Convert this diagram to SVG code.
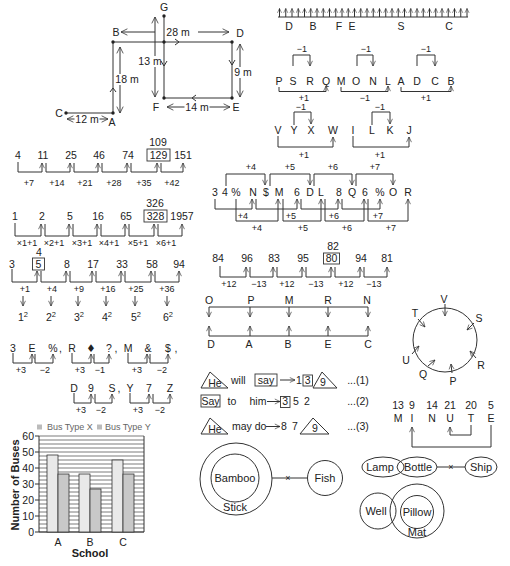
<svg xmlns="http://www.w3.org/2000/svg" width="510" height="566" viewBox="0 0 510 566">
<defs>
<marker id="a" viewBox="0 0 10 10" refX="9" refY="5" markerWidth="6.5" markerHeight="6.5" orient="auto" markerUnits="userSpaceOnUse"><path d="M1,1.2L9,5L1,8.8" fill="none" stroke="#2e2e2e" stroke-width="1.5"/></marker>
<marker id="s" viewBox="0 0 10 10" refX="9" refY="5" markerWidth="5.5" markerHeight="5.5" orient="auto" markerUnits="userSpaceOnUse"><path d="M1,1.2L9,5L1,8.8" fill="none" stroke="#2e2e2e" stroke-width="1.7"/></marker>
<marker id="b" viewBox="0 0 10 10" refX="9" refY="5" markerWidth="8" markerHeight="8" orient="auto-start-reverse" markerUnits="userSpaceOnUse"><path d="M1,1L9,5L1,9" fill="none" stroke="#2e2e2e" stroke-width="1.3"/></marker>
</defs>
<style>
text{font-family:"Liberation Sans",Arial,Helvetica,sans-serif;font-size:10.5px;fill:#222}
.c{text-anchor:middle}
.e{text-anchor:end}
.s{font-size:9px}
.m{font-size:11px}
line,path,polyline,polygon,.o{stroke:#333;stroke-width:1;fill:none}
.ar{marker-end:url(#a)}
.sa{marker-end:url(#s)}
.dd{marker-start:url(#b);marker-end:url(#b)}
.de{marker-end:url(#b)}
.dot{fill:#222}
.bx{fill:none;stroke:#333;stroke-width:.9}
.wb{fill:#fff}
.grid{stroke:#444;stroke-width:.7}
.bX{fill:#e9e9e9;stroke:#333;stroke-width:.8}
.bY{fill:#c8c8c8;stroke:#333;stroke-width:.8}
.b{font-weight:bold;font-size:11px}
.lg{font-size:9px;fill:#666}
</style>
<rect width="510" height="566" fill="#fff"/>

<g id="map">
<g id="map-connectors">
<line x1="164" y1="16" x2="164" y2="98"/>
<line class="de" x1="155" y1="32" x2="121" y2="32"/>
<line class="de" x1="198" y1="32" x2="229" y2="32"/>
<line x1="113" y1="42" x2="232" y2="42"/>
<polyline points="175,39 179,42 175,45"/>
<line class="dd" x1="155" y1="17" x2="155" y2="97"/>
<line x1="232" y1="42" x2="232" y2="98"/>
<polyline points="229,60 232,65 235,60"/>
<line class="dd" x1="240" y1="44" x2="240" y2="97"/>
<line x1="164" y1="98" x2="232" y2="98"/>
<polyline points="196,95 192,98 196,101"/>
<line class="dd" x1="167" y1="107" x2="230" y2="107"/>
<line x1="113" y1="42" x2="113" y2="113"/>
<polyline points="110,92 113,88 116,92"/>
<line class="dd" x1="120" y1="47" x2="120" y2="113"/>
<line x1="66" y1="113" x2="113" y2="113"/>
<line class="dd" x1="67" y1="119" x2="108" y2="119"/>
</g>
<rect class="wb" x="138.5" y="56" width="23" height="11"/>
<rect class="wb" x="115" y="74" width="24" height="11"/>
<rect class="wb" x="234.5" y="67" width="17" height="11"/>
<rect class="wb" x="184.5" y="102" width="25" height="11"/>
<rect class="wb" x="74.5" y="114" width="25" height="11"/>
<polyline points="161,61 164,66 167,61"/>
<circle class="dot" cx="164" cy="16" r="1.7"/>
<circle class="dot" cx="113" cy="42" r="1.7"/>
<circle class="dot" cx="164" cy="42" r="1.7"/>
<circle class="dot" cx="232" cy="42" r="1.7"/>
<circle class="dot" cx="164" cy="98" r="1.7"/>
<circle class="dot" cx="232" cy="98" r="1.7"/>
<circle class="dot" cx="113" cy="113" r="1.7"/>
<circle class="dot" cx="66" cy="113" r="1.7"/>
<g class="m">
<text x="164" y="11" class="c">G</text>
<text x="116" y="36" class="c">B</text>
<text x="178" y="36" class="c">28 m</text>
<text x="240" y="37" class="c">D</text>
<text x="150" y="65" class="c">13 m</text>
<text x="127" y="83" class="c">18 m</text>
<text x="243" y="76" class="c">9 m</text>
<text x="156" y="111" class="c">F</text>
<text x="236" y="111" class="c">E</text>
<text x="197" y="111" class="c">14 m</text>
<text x="59" y="117" class="c">C</text>
<text x="87" y="123" class="c">12 m</text>
<text x="112" y="126" class="c">A</text>
</g>
</g>

<g id="strip">
<line x1="278" y1="17" x2="468" y2="17"/>
<g class="sa">
<line x1="279.5" y1="17" x2="279.5" y2="8.5"/><line x1="285.75" y1="17" x2="285.75" y2="8.5"/><line x1="292" y1="17" x2="292" y2="8.5"/><line x1="298.25" y1="17" x2="298.25" y2="8.5"/><line x1="304.5" y1="17" x2="304.5" y2="8.5"/><line x1="310.75" y1="17" x2="310.75" y2="8.5"/><line x1="317" y1="17" x2="317" y2="8.5"/><line x1="323.25" y1="17" x2="323.25" y2="8.5"/><line x1="329.5" y1="17" x2="329.5" y2="8.5"/><line x1="335.75" y1="17" x2="335.75" y2="8.5"/><line x1="342" y1="17" x2="342" y2="8.5"/><line x1="348.25" y1="17" x2="348.25" y2="8.5"/><line x1="354.5" y1="17" x2="354.5" y2="8.5"/><line x1="360.75" y1="17" x2="360.75" y2="8.5"/><line x1="367" y1="17" x2="367" y2="8.5"/><line x1="373.25" y1="17" x2="373.25" y2="8.5"/><line x1="379.5" y1="17" x2="379.5" y2="8.5"/><line x1="385.75" y1="17" x2="385.75" y2="8.5"/><line x1="392" y1="17" x2="392" y2="8.5"/><line x1="398.25" y1="17" x2="398.25" y2="8.5"/><line x1="404.5" y1="17" x2="404.5" y2="8.5"/><line x1="410.75" y1="17" x2="410.75" y2="8.5"/><line x1="417" y1="17" x2="417" y2="8.5"/><line x1="423.25" y1="17" x2="423.25" y2="8.5"/><line x1="429.5" y1="17" x2="429.5" y2="8.5"/><line x1="435.75" y1="17" x2="435.75" y2="8.5"/><line x1="442" y1="17" x2="442" y2="8.5"/><line x1="448.25" y1="17" x2="448.25" y2="8.5"/><line x1="454.5" y1="17" x2="454.5" y2="8.5"/><line x1="460.75" y1="17" x2="460.75" y2="8.5"/><line x1="467" y1="17" x2="467" y2="8.5"/>
</g>
<text x="289" y="30" class="c">D</text><text x="313" y="30" class="c">B</text><text x="339" y="30" class="c">F</text><text x="352" y="30" class="c">E</text><text x="401" y="30" class="c">S</text><text x="449" y="30" class="c">C</text>
</g>

<g id="row-psrq">
<g id="row-psrq-connectors" class="ar">
<path d="M293,66V55H310V66"/><path d="M357,66V55H373V66"/><path d="M417,66V55H435V66"/>
<path d="M279,87V91.5H326V86"/><path d="M341,87V91.5H388V86"/><path d="M401,87V91.5H451V86"/>
</g>
<text x="279" y="85" class="c">P</text><text x="293" y="85" class="c">S</text><text x="310" y="85" class="c">R</text><text x="326" y="85" class="c">Q</text><text x="341" y="85" class="c">M</text><text x="356" y="85" class="c">O</text><text x="373" y="85" class="c">N</text><text x="388" y="85" class="c">L</text><text x="401" y="85" class="c">A</text><text x="417" y="85" class="c">D</text><text x="435" y="85" class="c">C</text><text x="451" y="85" class="c">B</text>
<text x="302" y="52" class="c s">−1</text><text x="366" y="52" class="c s">−1</text><text x="426" y="52" class="c s">−1</text>
<text x="304" y="100.5" class="c s">+1</text><text x="365" y="100.5" class="c s">−1</text><text x="426" y="100.5" class="c s">+1</text>
</g>

<g id="row-vyxw">
<g id="row-vyxw-connectors" class="ar">
<path d="M294,125V112H311V124"/><path d="M372,125V112H390V124"/>
<path d="M278,136V147H333V137"/><path d="M353,136V147H409V137"/>
</g>
<text x="278" y="134" class="c">V</text><text x="294" y="134" class="c">Y</text><text x="311" y="134" class="c">X</text><text x="333" y="134" class="c">W</text><text x="353" y="134" class="c">I</text><text x="372" y="134" class="c">L</text><text x="390" y="134" class="c">K</text><text x="409" y="134" class="c">J</text>
<text x="301" y="110" class="c s">−1</text><text x="380" y="110" class="c s">−1</text>
<text x="304" y="158" class="c s">+1</text><text x="380" y="158" class="c s">+1</text>
</g>

<g id="series-add">
<g id="series-add-connectors" class="ar">
<path d="M18,162V172H42V163"/><path d="M46,163V172H70V163"/><path d="M74,163V172H98V163"/><path d="M102,163V172H127V163"/><path d="M131,163V172H157V163"/><path d="M161,163V172H183V163"/>
</g>
<rect class="bx" x="147" y="149" width="23" height="12"/>
<text x="158" y="146" class="c">109</text>
<text x="18" y="158.5" class="c">4</text><text x="43" y="158.5" class="c">11</text><text x="71" y="158.5" class="c">25</text><text x="99" y="158.5" class="c">46</text><text x="128" y="158.5" class="c">74</text><text x="158.5" y="158.5" class="c">129</text><text x="183" y="158.5" class="c">151</text>
<text x="29" y="186" class="c s">+7</text><text x="57" y="186" class="c s">+14</text><text x="85" y="186" class="c s">+21</text><text x="114" y="186" class="c s">+28</text><text x="144" y="186" class="c s">+35</text><text x="172" y="186" class="c s">+42</text>
</g>

<g id="series-mul">
<g id="series-mul-connectors" class="ar">
<path d="M15,223V236H41V224"/><path d="M45,224V236H69V224"/><path d="M73,224V236H97V224"/><path d="M101,224V236H125V224"/><path d="M129,224V236H154V224"/><path d="M158,224V236H182V224"/>
</g>
<rect class="bx" x="144" y="210" width="23" height="12"/>
<text x="155" y="206.5" class="c">326</text>
<text x="15" y="219.5" class="c">1</text><text x="42" y="219.5" class="c">2</text><text x="70" y="219.5" class="c">5</text><text x="98" y="219.5" class="c">16</text><text x="126" y="219.5" class="c">65</text><text x="155.5" y="219.5" class="c">328</text><text x="182" y="219.5" class="c">1957</text>
<text x="27" y="246" class="c s">×1+1</text><text x="54" y="246" class="c s">×2+1</text><text x="82" y="246" class="c s">×3+1</text><text x="109" y="246" class="c s">×4+1</text><text x="138" y="246" class="c s">×5+1</text><text x="166" y="246" class="c s">×6+1</text>
</g>

<g id="series-mixed">
<g id="series-mixed-connectors" class="ar">
<path d="M226,186V174H265V185"/><path d="M270,186V174H310V185"/><path d="M314,186V174H352V185"/><path d="M356,186V174H393V185"/>
<path d="M215,199V209H252V199"/><path d="M256,199V209H297V199"/><path d="M301,199V209H338V199"/><path d="M342,199V209H380V199"/>
<path d="M236,199V221H278V199"/><path d="M283,199V221H321V199"/><path d="M325,199V221H364V199"/><path d="M368,199V221H408V199"/>
</g>
<text x="215" y="196" class="c">3</text><text x="225" y="196" class="c">4</text><text x="236" y="196" class="c">%</text><text x="253" y="196" class="c">N</text><text x="266" y="196" class="c">$</text><text x="279" y="196" class="c">M</text><text x="297" y="196" class="c">6</text><text x="310" y="196" class="c">D</text><text x="321" y="196" class="c">L</text><text x="339" y="196" class="c">8</text><text x="352" y="196" class="c">Q</text><text x="365" y="196" class="c">6</text><text x="380" y="196" class="c">%</text><text x="393" y="196" class="c">O</text><text x="408" y="196" class="c">R</text>
<text x="251" y="170" class="c s">+4</text><text x="290" y="170" class="c s">+5</text><text x="333" y="170" class="c s">+6</text><text x="375" y="170" class="c s">+7</text>
<text x="243" y="218.5" class="c s">+4</text><text x="291" y="218.5" class="c s">+5</text><text x="334" y="218.5" class="c s">+6</text><text x="378" y="218.5" class="c s">+7</text>
<text x="257" y="231" class="c s">+4</text><text x="303" y="231" class="c s">+5</text><text x="347" y="231" class="c s">+6</text><text x="391" y="231" class="c s">+7</text>
</g>

<g id="series-squares">
<g id="series-squares-connectors" class="ar">
<path d="M12,269V282H37V271"/><path d="M41,271V282H66V271"/><path d="M70,271V282H92V271"/><path d="M96,271V282H121V271"/><path d="M125,271V282H151V271"/><path d="M155,271V282H179V271"/>
<line x1="23" y1="296" x2="23" y2="306"/><line x1="51" y1="296" x2="51" y2="306"/><line x1="78" y1="296" x2="78" y2="306"/><line x1="106" y1="296" x2="106" y2="306"/><line x1="135" y1="296" x2="135" y2="306"/><line x1="167" y1="296" x2="167" y2="306"/>
</g>
<rect class="bx" x="32.5" y="258" width="12" height="12"/>
<text x="39" y="256" class="c">4</text>
<text x="12" y="267.5" class="c">3</text><text x="38.5" y="267.5" class="c">5</text><text x="67" y="267.5" class="c">8</text><text x="93" y="267.5" class="c">17</text><text x="122" y="267.5" class="c">33</text><text x="152" y="267.5" class="c">58</text><text x="179" y="267.5" class="c">94</text>
<text x="25" y="292" class="c s">+1</text><text x="52" y="292" class="c s">+4</text><text x="79" y="292" class="c s">+9</text><text x="108" y="292" class="c s">+16</text><text x="136" y="292" class="c s">+25</text><text x="167" y="292" class="c s">+36</text>
<text x="23" y="321" class="c">1<tspan font-size="7.5" dy="-4">2</tspan></text><text x="51" y="321" class="c">2<tspan font-size="7.5" dy="-4">2</tspan></text><text x="79" y="321" class="c">3<tspan font-size="7.5" dy="-4">2</tspan></text><text x="107" y="321" class="c">4<tspan font-size="7.5" dy="-4">2</tspan></text><text x="136" y="321" class="c">5<tspan font-size="7.5" dy="-4">2</tspan></text><text x="168" y="321" class="c">6<tspan font-size="7.5" dy="-4">2</tspan></text>
</g>

<g id="series-alt">
<g id="series-alt-connectors" class="ar">
<path d="M220,266V277H246V267"/><path d="M250,267V277H273V267"/><path d="M277,267V277H302V267"/><path d="M306,267V277H331V267"/><path d="M335,267V277H360V267"/><path d="M364,267V277H387V267"/>
</g>
<rect class="bx" x="323.5" y="253" width="16" height="11"/>
<text x="333" y="250" class="c">82</text>
<text x="218" y="261.5" class="c">84</text><text x="247" y="261.5" class="c">96</text><text x="274" y="261.5" class="c">83</text><text x="303" y="261.5" class="c">95</text><text x="331.5" y="261.5" class="c">80</text><text x="361" y="261.5" class="c">94</text><text x="387" y="261.5" class="c">81</text>
<text x="229" y="287" class="c s">+12</text><text x="259" y="287" class="c s">−13</text><text x="287" y="287" class="c s">+12</text><text x="316" y="287" class="c s">−13</text><text x="346" y="287" class="c s">+12</text><text x="374" y="287" class="c s">−13</text>
</g>

<g id="order-lines">
<g id="order-lines-connectors">
<line x1="209" y1="307" x2="368" y2="307"/>
<line x1="209" y1="336" x2="368" y2="336"/>
<g class="ar">
<line x1="209" y1="307" x2="209" y2="317"/><line x1="250" y1="307" x2="250" y2="317"/><line x1="289" y1="307" x2="289" y2="317"/><line x1="328" y1="307" x2="328" y2="317"/><line x1="368" y1="307" x2="368" y2="317"/>
<line x1="209" y1="336" x2="209" y2="326"/><line x1="250" y1="336" x2="250" y2="326"/><line x1="289" y1="336" x2="289" y2="326"/><line x1="328" y1="336" x2="328" y2="326"/><line x1="368" y1="336" x2="368" y2="326"/>
</g>
</g>
<text x="209" y="303.5" class="c">O</text><text x="251" y="303.5" class="c">P</text><text x="289" y="303.5" class="c">M</text><text x="328" y="303.5" class="c">R</text><text x="367" y="303.5" class="c">N</text>
<text x="211" y="347.5" class="c">D</text><text x="249" y="347.5" class="c">A</text><text x="288" y="347.5" class="c">B</text><text x="328" y="347.5" class="c">E</text><text x="368" y="347.5" class="c">C</text>
</g>

<g id="circle-order">
<circle class="o" cx="445" cy="340" r="32"/>
<g id="circle-connectors" class="ar">
<line x1="445" y1="304" x2="445" y2="316"/>
<line x1="418" y1="319" x2="425" y2="327"/>
<line x1="474" y1="323" x2="467" y2="330"/>
<line x1="412" y1="354" x2="419" y2="346"/>
<line x1="428" y1="366" x2="435" y2="360"/>
<line x1="452" y1="373" x2="451" y2="364"/>
<line x1="476" y1="358" x2="470" y2="351"/>
</g>
<text x="444" y="303" class="c">V</text><text x="415" y="317" class="c">T</text><text x="479" y="322" class="c">S</text><text x="406" y="364" class="c">U</text><text x="423" y="377.5" class="c">Q</text><text x="453" y="384.5" class="c">P</text><text x="481" y="369" class="c">R</text>
</g>

<g id="series-symbols">
<g id="series-symbols-connectors" class="ar">
<path d="M13,353V363H32V354"/><path d="M35,354V363H53V354"/><path d="M72,353V363H91V354"/><path d="M94,354V363H109V354"/><path d="M128,353V363H147V354"/><path d="M150,354V363H168V354"/>
<path d="M74,393V403H91V394"/><path d="M95,394V403H112V394"/><path d="M130,393V403H149V394"/><path d="M153,394V403H170V394"/>
</g>
<text x="13" y="351.5" class="c">3</text><text x="32" y="351.5" class="c">E</text><text x="53" y="351.5" class="c">%</text><text x="60.5" y="351.5" class="c">,</text><text x="72" y="351.5" class="c">R</text><text x="91" y="351.5" class="c" style="font-family:'DejaVu Sans',sans-serif">♦</text><text x="109" y="351.5" class="c">?</text><text x="116" y="351.5" class="c">,</text><text x="128" y="351.5" class="c">M</text><text x="148" y="351.5" class="c">&amp;</text><text x="168" y="351.5" class="c">$</text><text x="176" y="351.5" class="c">,</text>
<text x="21" y="373" class="c s">+3</text><text x="45" y="373" class="c s">−2</text><text x="80" y="373" class="c s">+3</text><text x="100" y="373" class="c s">−1</text><text x="137" y="373" class="c s">+3</text><text x="162" y="373" class="c s">−2</text>
<text x="74" y="391.5" class="c">D</text><text x="91" y="391.5" class="c">9</text><text x="112" y="391.5" class="c">S</text><text x="119" y="391.5" class="c">,</text><text x="130" y="391.5" class="c">Y</text><text x="149" y="391.5" class="c">7</text><text x="170" y="391.5" class="c">Z</text>
<text x="81" y="413" class="c s">+3</text><text x="101" y="413" class="c s">−2</text><text x="138" y="413" class="c s">+3</text><text x="160" y="413" class="c s">−2</text>
</g>

<g id="bar-chart">
<rect x="37" y="424.5" width="5" height="5" fill="#bbb"/><text x="47" y="430" class="lg">Bus Type X</text>
<rect x="97" y="424.5" width="5" height="5" fill="#bbb"/><text x="105" y="430" class="lg">Bus Type Y</text>
<path class="grid" d="M39,436H144M39,440H144M39,444H144M39,448H144M39,452H144M39,456H144M39,460H144M39,464H144M39,468H144M39,472H144M39,476H144M39,480H144M39,484H144M39,488H144M39,492H144M39,496H144M39,500H144M39,504H144M39,508H144M39,512H144M39,516H144M39,520H144M39,524H144M39,528H144M39,532H144"/>
<path d="M39,436V532H144V436M35,436H39M35,452H39M35,468H39M35,484H39M35,500H39M35,516H39M35,532H39"/>
<rect class="bX" x="47" y="455" width="11" height="77"/>
<rect class="bY" x="58" y="474" width="11" height="58"/>
<rect class="bX" x="79" y="474" width="11" height="58"/>
<rect class="bY" x="90" y="489" width="11" height="43"/>
<rect class="bX" x="112" y="460" width="11" height="72"/>
<rect class="bY" x="123" y="474" width="11" height="58"/>
<text x="34" y="439.5" class="e">60</text><text x="34" y="455.5" class="e">50</text><text x="34" y="471.5" class="e">40</text><text x="34" y="487.5" class="e">30</text><text x="34" y="503.5" class="e">20</text><text x="34" y="519.5" class="e">10</text><text x="34" y="535.5" class="e">0</text>
<text x="58" y="546" class="c">A</text><text x="90" y="546" class="c">B</text><text x="123" y="546" class="c">C</text>
<text x="90" y="557" class="c b">School</text>
<text x="0" y="0" class="c b" transform="translate(18.5,485) rotate(-90)">Number of Buses</text>
</g>

<g id="coding">
<g id="coding-line1">
<polygon points="201,388 210,372 228,388"/>
<text x="215" y="386.5" class="c">He</text>
<text x="231" y="384">will</text>
<rect class="bx" x="255" y="374" width="22" height="12"/>
<text x="266" y="384" class="c">say</text>
<line class="ar" x1="280" y1="380" x2="295" y2="380"/>
<text x="299" y="384" class="c">1</text>
<rect class="bx" x="303" y="375" width="9.5" height="11"/>
<text x="307.7" y="384" class="c">3</text>
<polygon points="313,388 322,372 337,388"/>
<text x="323" y="386" class="c">9</text>
<text x="358" y="384" class="c">...(1)</text>
</g>
<g id="coding-line2">
<rect class="bx" x="201" y="395" width="19" height="12"/>
<text x="210.5" y="405" class="c">Say</text>
<text x="232" y="405" class="c">to</text>
<text x="258" y="405" class="c">him</text>
<line class="ar" x1="267" y1="401.5" x2="280" y2="401.5"/>
<rect class="bx" x="280.5" y="396.5" width="9.5" height="11"/>
<text x="285.2" y="405" class="c">3</text>
<text x="296" y="405" class="c">5</text>
<text x="307" y="405" class="c">2</text>
<text x="358" y="405" class="c">...(2)</text>
</g>
<g id="coding-line3">
<polygon points="201,434 210,418 228,434"/>
<text x="215" y="432.5" class="c">He</text>
<text x="232" y="430">may do</text>
<line class="ar" x1="266" y1="426.5" x2="280" y2="426.5"/>
<text x="284" y="430" class="c">8</text>
<text x="295" y="430" class="c">7</text>
<polygon points="300,434 313,418 329,434"/>
<text x="315" y="432" class="c">9</text>
<text x="358" y="430" class="c">...(3)</text>
</g>
</g>

<g id="minute">
<g id="minute-connectors" class="ar">
<path d="M471,425V435H450V427"/>
<path d="M491,425V447H412V427"/>
</g>
<text x="398" y="409" class="c">13</text><text x="412" y="409" class="c">9</text><text x="432" y="409" class="c">14</text><text x="450" y="409" class="c">21</text><text x="471" y="409" class="c">20</text><text x="491" y="409" class="c">5</text>
<text x="398" y="422" class="c">M</text><text x="412" y="422" class="c">I</text><text x="432" y="422" class="c">N</text><text x="450" y="422" class="c">U</text><text x="471" y="422" class="c">T</text><text x="491" y="422" class="c">E</text>
</g>

<g id="venn-bamboo">
<g id="stick"><circle class="o" cx="236" cy="479" r="36"/><text x="235" y="511" class="c m">Stick</text></g>
<g id="bamboo"><circle class="o" cx="235" cy="478" r="24"/><text x="235" y="482" class="c m">Bamboo</text></g>
<g id="venn-bamboo-connectors"><line x1="272" y1="478" x2="307" y2="478"/></g>
<text x="288" y="481" class="c s">×</text>
<g id="fish"><circle class="o" cx="325" cy="478" r="17.5"/><text x="325" y="482" class="c m">Fish</text></g>
</g>

<g id="venn-lamp">
<g id="lamp"><ellipse class="o" cx="383" cy="467" rx="21" ry="10"/><text x="380" y="471" class="c m">Lamp</text></g>
<g id="bottle"><ellipse class="o" cx="417" cy="467" rx="20" ry="10"/><text x="418" y="471" class="c m">Bottle</text></g>
<g id="venn-lamp-connectors"><line x1="437" y1="467" x2="465" y2="467"/></g>
<text x="451" y="470" class="c s">×</text>
<g id="ship"><ellipse class="o" cx="481" cy="467" rx="16" ry="10"/><text x="481" y="471" class="c m">Ship</text></g>
</g>

<g id="venn-mat">
<g id="well"><circle class="o" cx="378" cy="511" r="18"/><text x="376" y="515" class="c m">Well</text></g>
<g id="mat"><circle class="o" cx="417" cy="511" r="27"/><text x="417" y="536" class="c m">Mat</text></g>
<g id="pillow"><circle class="o" cx="417" cy="512" r="16.5"/><text x="417" y="516" class="c m">Pillow</text></g>
</g>
</svg>
